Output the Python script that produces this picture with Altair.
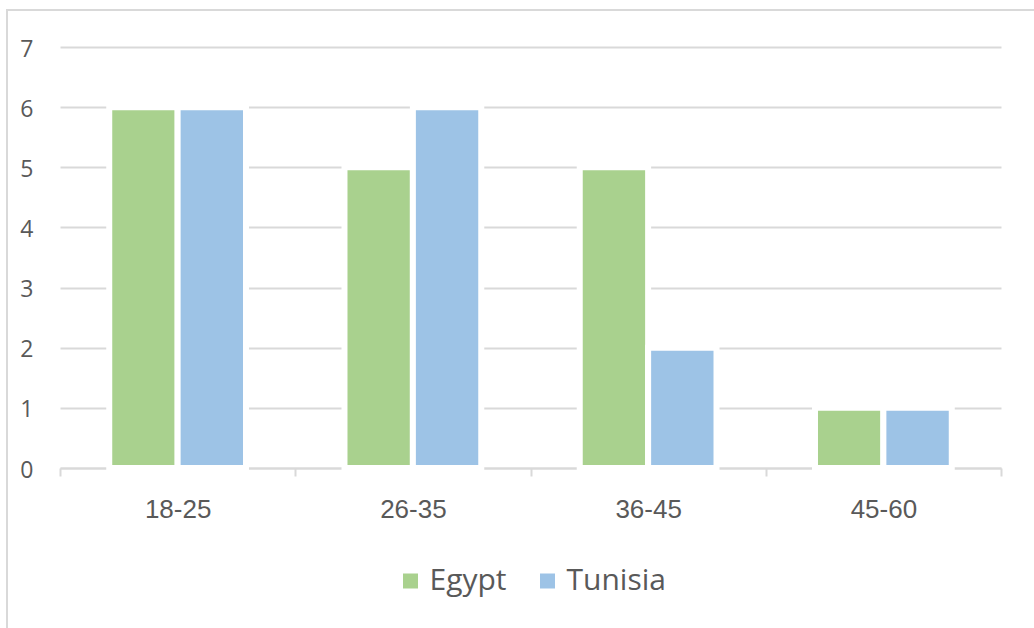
import altair as alt
import pandas as pd

# Respondents by age group and country
age_groups = ["18-25", "26-35", "36-45", "45-60"]
egypt = [6, 5, 5, 1]
tunisia = [6, 6, 2, 1]
countries = ["Egypt", "Tunisia"]
colors = ["#a9d18e", "#9dc3e6"]

rows = []
for g, e, t in zip(age_groups, egypt, tunisia):
    rows.append({"age": g, "country": "Egypt", "count": e})
    rows.append({"age": g, "country": "Tunisia", "count": t})
df = pd.DataFrame(rows)

W, H = 941, 421
TEXT = "#595959"
GRID = "#d9d9d9"

bars = alt.Chart(df).mark_bar(stroke="white", strokeWidth=6, clip=False).encode(
    x=alt.X(
        "age:N",
        sort=age_groups,
        title=None,
        scale=alt.Scale(paddingInner=0, paddingOuter=0),
        axis=alt.Axis(
            labelAngle=0,
            labelFont="Liberation Sans",
            labelFontSize=26,
            labelColor=TEXT,
            labelPadding=20,
            domainColor=GRID,
            domainWidth=2,
            tickColor=GRID,
            tickWidth=2,
            tickSize=8,
            tickBand="extent",
            grid=False,
        ),
    ),
    xOffset=alt.XOffset(
        "country:N",
        sort=countries,
        scale=alt.Scale(paddingInner=0, paddingOuter=0.72),
    ),
    y=alt.Y(
        "count:Q",
        title=None,
        scale=alt.Scale(domain=[0, 7], nice=False),
        axis=alt.Axis(
            values=[0, 1, 2, 3, 4, 5, 6, 7],
            format="d",
            labelFont="Open Sans",
            labelFontSize=23,
            labelColor=TEXT,
            labelPadding=27,
            labelOffset=2,
            ticks=False,
            domain=False,
            gridColor=GRID,
            gridWidth=2,
        ),
    ),
    color=alt.Color(
        "country:N",
        sort=countries,
        scale=alt.Scale(domain=countries, range=colors),
        legend=alt.Legend(
            title=None,
            orient="none",
            direction="horizontal",
            legendX=W / 2 - 135,
            legendY=H + 98,
            symbolType="square",
            symbolSize=225,
            symbolStrokeWidth=0,
            labelFont="Open Sans",
            labelFontSize=30,
            labelColor=TEXT,
            labelOffset=4,
            columnPadding=25,
        ),
    ),
)

# Outer chart frame (top and left edges)
frame_top = alt.Chart(df).mark_rule(color=GRID, strokeWidth=2, clip=False).encode(
    x=alt.value(-54), x2=alt.value(W + 100), y=alt.value(-37)
)
frame_left = alt.Chart(df).mark_rule(color=GRID, strokeWidth=2, clip=False).encode(
    x=alt.value(-53), y=alt.value(-37), y2=alt.value(H + 200)
)

chart = (
    alt.layer(frame_top, frame_left, bars)
    .properties(
        width=W,
        height=H,
        view=alt.ViewBackground(strokeOpacity=0),
        autosize=alt.AutoSizeParams(type="none"),
        padding={"left": 60, "top": 47, "right": 33, "bottom": 160},
    )
    .configure_view(strokeOpacity=0)
    .configure(background="white")
)

chart.save("out.html", embed_options={"renderer": "svg", "actions": False})
